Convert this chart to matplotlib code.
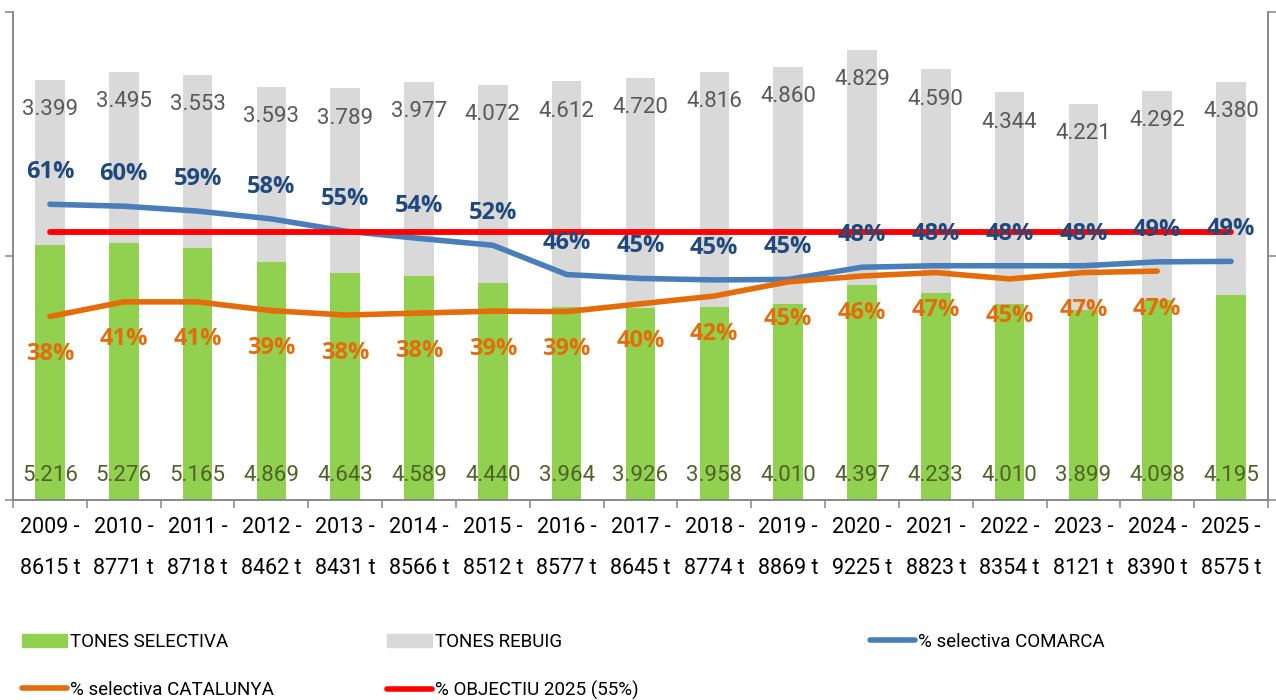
import matplotlib
matplotlib.use("Agg")
import matplotlib.pyplot as plt
from matplotlib.lines import Line2D
from matplotlib.patches import Patch

# Data
years = [2009, 2010, 2011, 2012, 2013, 2014, 2015, 2016, 2017,
         2018, 2019, 2020, 2021, 2022, 2023, 2024, 2025]
totals = [8615, 8771, 8718, 8462, 8431, 8566, 8512, 8577, 8645,
          8774, 8869, 9225, 8823, 8354, 8121, 8390, 8575]
selectiva = [5216, 5276, 5165, 4869, 4643, 4589, 4440, 3964, 3926,
             3958, 4010, 4397, 4233, 4010, 3899, 4098, 4195]
rebuig = [3399, 3495, 3553, 3593, 3789, 3977, 4072, 4612, 4720,
          4816, 4860, 4829, 4590, 4344, 4221, 4292, 4380]
pct_comarca = [60.6, 60.2, 59.2, 57.6, 55.1, 53.6, 52.2, 46.2, 45.4,
               45.1, 45.2, 47.7, 48.0, 48.0, 48.0, 48.8, 48.9]
pct_catalunya = [37.6, 40.6, 40.6, 38.8, 37.9, 38.3, 38.7, 38.6, 40.2,
                 41.8, 44.7, 45.9, 46.6, 45.3, 46.6, 46.9]
objectiu = 55

REG = ["Roboto", "DejaVu Sans"]
BOLD = ["Open Sans", "DejaVu Sans"]

x = list(range(len(years)))
tick_labels = [f"{y} -\n{t} t" for y, t in zip(years, totals)]

def miles(v):
    return f"{v:,}".replace(",", ".")

fig = plt.figure(figsize=(12.76, 7), dpi=100)
ax = fig.add_axes([0.0102, 0.2857, 0.9835, 0.6972])
ax2 = ax.twinx()

# stacked bars
ax.bar(x, selectiva, width=0.4, color="#92d050", zorder=2)
ax.bar(x, rebuig, width=0.4, bottom=selectiva, color="#d9d9d9", zorder=2)

for i in x:
    ax.annotate(miles(selectiva[i]), (i, 0), xytext=(0, 18),
                textcoords="offset points", ha="center", va="center",
                fontsize=16, color="#4f6228", family=REG)
    ax.annotate(miles(rebuig[i]), (i, selectiva[i] + rebuig[i]),
                xytext=(0, -21.5), textcoords="offset points",
                ha="center", va="center", fontsize=16, color="#595959",
                family=REG)

ax.set_xlim(-0.5, len(years) - 0.5)
ax.set_ylim(0, 10000)
ax.set_yticks([0, 5000, 10000])
ax.set_yticklabels([])
ax.set_xticks(x)
ax.set_xticklabels(tick_labels, fontsize=15.5, family=REG, linespacing=2.25)
ax.set_xticks([i - 0.5 for i in range(len(years) + 1)], minor=True)
ax.tick_params(axis="x", which="major", length=0, pad=12)
ax.tick_params(axis="x", which="minor", length=6, width=1.1,
               color="#868686", direction="out")
ax.tick_params(axis="y", length=6, width=1.1, color="#868686")

# lines on secondary axis
ax2.set_ylim(0, 100)
ax2.set_yticks([0, 50, 100])
ax2.set_yticklabels([])
ax2.tick_params(axis="y", length=6, width=1.1, color="#868686")

ax2.plot(x, pct_comarca, color="#4a7ebb", lw=4, solid_capstyle="round",
         zorder=3)
ax2.plot(x[:len(pct_catalunya)], pct_catalunya, color="#e46c0a", lw=4,
         solid_capstyle="round", zorder=4)
ax2.plot(x, [objectiu] * len(x), color="#ff0000", lw=4.2,
         solid_capstyle="round", zorder=5)

for i, v in enumerate(pct_comarca):
    ax2.annotate(f"{v:.0f}%", (i, v), xytext=(0, 23),
                 textcoords="offset points", ha="center", va="center",
                 fontsize=17, fontweight="bold", color="#1f497d",
                 family=BOLD, zorder=6)
for i, v in enumerate(pct_catalunya):
    ax2.annotate(f"{v:.0f}%", (i, v), xytext=(0, -27),
                 textcoords="offset points", ha="center", va="center",
                 fontsize=17, fontweight="bold", color="#e46c0a",
                 family=BOLD, zorder=6)

for a in (ax, ax2):
    a.spines["top"].set_visible(False)
    for s in ("left", "right", "bottom"):
        a.spines[s].set_color("#868686")
        a.spines[s].set_linewidth(1.1)

# legend, three columns placed like the original
h_sel = Patch(color="#92d050")
h_reb = Patch(color="#d9d9d9")
h_com = Line2D([], [], color="#4a7ebb", lw=4, solid_capstyle="round")
h_cat = Line2D([], [], color="#e46c0a", lw=4, solid_capstyle="round")
h_obj = Line2D([], [], color="#ff0000", lw=4, solid_capstyle="round")

leg_kw = dict(loc="upper left", frameon=False, borderpad=0,
              borderaxespad=0, handlelength=2.4, handletextpad=0.15,
              labelspacing=1.6, prop={"family": REG, "size": 13.5})
fig.legend([h_sel, h_cat], ["TONES SELECTIVA", "% selectiva CATALUNYA"],
           bbox_to_anchor=(0.0172, 0.0960), **leg_kw)
fig.legend([h_reb, h_obj], ["TONES REBUIG", "% OBJECTIU 2025 (55%)"],
           bbox_to_anchor=(0.3033, 0.0960), **leg_kw)
fig.legend([h_com], ["% selectiva COMARCA"],
           bbox_to_anchor=(0.6818, 0.0960), **leg_kw)

fig.savefig("out.png", dpi=100)
